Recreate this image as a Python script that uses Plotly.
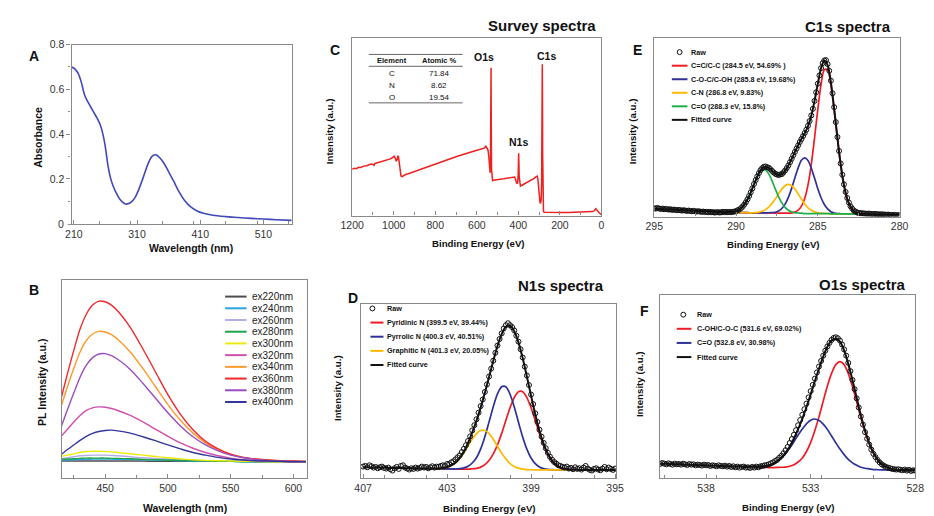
import numpy as np
import plotly.graph_objects as go

FIG_W, FIG_H = 934, 516
FONT = "Liberation Sans, Arial, sans-serif"
AXIS_GRAY = "#8a8a8a"
TICK_TEXT = "#333333"
INK = "#111111"

# ---------------- A: UV-vis absorption ----------------
uv_wavelength = [207, 212, 217, 222, 227, 232, 237, 242, 247, 252,
                 256, 260, 264, 268, 272, 277, 282, 287, 292, 297,
                 302, 307, 312, 317, 322, 327, 332, 336, 340, 344,
                 348, 353, 358, 363, 368, 375, 385, 395, 405, 415,
                 430, 450, 470, 490, 510, 530, 555]
uv_absorbance = [0.700, 0.690, 0.670, 0.630, 0.575, 0.545, 0.520, 0.495, 0.470, 0.440,
                 0.400, 0.340, 0.260, 0.205, 0.170, 0.138, 0.113, 0.097, 0.088, 0.090,
                 0.100, 0.118, 0.148, 0.185, 0.225, 0.265, 0.295, 0.306, 0.308, 0.300,
                 0.288, 0.268, 0.243, 0.216, 0.190, 0.150, 0.105, 0.075, 0.057, 0.047,
                 0.038, 0.032, 0.028, 0.024, 0.021, 0.018, 0.015]
uv_ticks = [0, 0.2, 0.4, 0.6, 0.8]
uv_tick_text = ["0", "0.2", "0.4", "0.6", "0.8"]

# ---------------- B: PL emission under different excitations ----------------
pl_wavelength = [415, 420, 425, 430, 435, 440, 445, 450, 455, 460, 470, 480, 490,
                 500, 510, 520, 530, 540, 550, 560, 570, 580, 590, 600, 610]
pl_ex220 = [3, 3, 3, 3, 3, 3, 3, 3, 3, 3, 3, 3, 2, 2, 2, 2, 2, 2, 2, 2, 2, 1, 1, 1, 1]
pl_ex240 = [6, 7, 7, 8, 8, 9, 9, 9, 9, 8, 8, 7, 6, 5, 4, 3, 3, 2, 2, 1, 1, 1, 1, 1, 1]
pl_ex260 = [10, 13, 16, 19, 20, 21, 21, 21, 20, 19, 16, 13, 11, 9, 7, 5, 4, 3, 2, 2, 1, 1, 1, 1, 1]
pl_ex280 = [8, 9, 10, 11, 12, 12, 12, 12, 11, 11, 10, 8, 7, 6, 5, 4, 3, 2, 2, 1, 1, 1, 1, 1, 1]
pl_ex300 = [17, 21, 25, 29, 32, 33, 33, 32, 31, 29, 25, 21, 17, 13, 10, 7, 5, 4, 3, 2, 2, 1, 1, 1, 1]
pl_ex320 = [78, 100, 122, 142, 157, 165, 168, 167, 163, 157, 142, 122, 100, 78, 58, 42, 29, 19, 12, 7, 4, 3, 2, 1, 1]
pl_ex340 = [170, 230, 285, 335, 370, 390, 398, 396, 388, 374, 335, 285, 230, 175, 127, 88, 58, 37, 23, 14, 9, 6, 4, 3, 2]
pl_ex360 = [195, 270, 340, 405, 450, 478, 490, 488, 478, 460, 410, 345, 275, 205, 145, 98, 63, 40, 24, 14, 9, 6, 4, 3, 2]
pl_ex380 = [107, 160, 210, 258, 295, 318, 329, 330, 324, 313, 282, 240, 195, 150, 110, 77, 52, 34, 21, 13, 8, 5, 3, 2, 2]
pl_ex400 = [23, 38, 52, 66, 78, 87, 93, 96, 97, 95, 88, 77, 65, 52, 40, 29, 21, 14, 9, 6, 4, 3, 2, 1, 1]
pl_names = ["ex220nm", "ex240nm", "ex260nm", "ex280nm", "ex300nm",
            "ex320nm", "ex340nm", "ex360nm", "ex380nm", "ex400nm"]
pl_colors = ["#4d4d4d", "#2aa3e0", "#b4aee6", "#1fa34a", "#eeea10",
             "#cf4fae", "#fb9a2b", "#f0282d", "#9a4dc0", "#33379c"]

# ---------------- C: XPS survey ----------------
survey_be = [1200, 1190, 1180, 1170, 1160, 1150, 1140, 1130, 1120, 1110, 1100, 1095, 1090, 1080,
             1070, 1060, 1050, 1040, 1030, 1020, 1010, 1003, 998, 992, 988, 984, 980, 977, 973,
             969, 965, 960, 955, 950, 940, 930, 920, 910, 900, 890, 880, 870, 860, 850, 840, 830,
             820, 810, 800, 790, 780, 770, 760, 750, 740, 730, 720, 710, 700, 690, 680, 670, 660,
             650, 640, 630, 620, 610, 600, 590, 580, 570, 562, 557, 554, 550, 546, 542, 539, 536,
             534, 533, 532, 531.5, 531, 530, 529, 527, 524, 520, 510, 500, 490, 480, 470, 460, 450,
             440, 430, 422, 418, 414, 409, 404, 401, 399.5, 398.5, 397.5, 396, 393, 390, 385, 380,
             370, 360, 350, 340, 330, 322, 316, 312, 309, 306, 303, 300, 296, 293, 290, 288, 286.5,
             285.5, 284.8, 284, 283, 282, 281, 279, 275, 260, 240, 220, 200, 180, 160, 140, 120,
             100, 80, 60, 45, 35, 30, 27, 24, 20, 15, 10, 5, 0]
survey_counts = [26.0, 26.6, 26.3, 27.1, 27.0, 27.6, 27.9, 28.0, 28.3, 28.9, 28.7, 28.2, 29.3, 29.6,
                 29.9, 30.4, 30.6, 31.1, 31.2, 31.7, 32.2, 32.9, 33.4, 32.0, 30.8, 31.2, 33.6, 33.0, 29.0,
                 24.5, 22.2, 21.9, 22.3, 22.8, 23.2, 23.5, 23.9, 24.4, 24.6, 25.2, 25.5, 26.0, 26.3, 26.8,
                 27.1, 27.6, 28.0, 28.4, 28.8, 29.3, 29.6, 30.1, 30.4, 30.9, 31.3, 31.7, 32.2, 32.6, 33.0,
                 33.5, 33.9, 34.3, 34.6, 35.1, 35.4, 35.9, 36.2, 36.5, 36.7, 37.0, 37.3, 37.6, 38.0, 39.2,
                 38.6, 37.4, 36.8, 33.0, 26.5, 24.0, 30.0, 55.0, 78.0, 83.0, 72.0, 45.0, 26.0, 21.0, 19.6,
                 19.8, 20.1, 20.2, 20.4, 20.6, 20.7, 20.9, 21.1, 21.3, 21.5, 21.8, 21.6, 20.5, 18.4, 17.9,
                 22.0, 30.0, 35.0, 30.5, 22.0, 17.2, 16.6, 16.9, 17.2, 17.8, 18.4, 18.9, 19.5, 20.2, 21.0,
                 21.8, 22.4, 22.2, 20.5, 16.0, 11.0, 7.5, 6.8, 9.0, 18.0, 45.0, 72.0, 85.0, 70.0, 35.0,
                 12.0, 4.0, 2.2, 1.9, 1.8, 1.8, 1.7, 1.8, 1.7, 1.7, 1.8, 1.8, 1.9, 1.9, 2.0, 2.2, 2.6,
                 3.1, 3.8, 3.4, 2.7, 2.0, 1.4, 0.9, 0.5]
table_elements = ["C", "N", "O"]
table_atomic = ["71.84", "8.62", "19.54"]

# ---------------- D: N1s high-resolution (407 -> 395 eV) ----------------
n1s_raw = [36, 38, 34, 40, 37, 33, 35, 31, 34, 36,
           32, 30, 33, 28, 24, 31, 35, 29, 38, 40,
           33, 30, 27, 31, 29, 33, 30, 32, 36, 33,
           35, 31, 34, 37, 33, 36, 35, 38, 40, 38,
           44, 43, 49, 52, 58, 64, 70, 80, 90, 101,
           114, 128, 146, 162, 180, 200, 220, 240, 263, 286,
           310, 334, 358, 382, 404, 424, 441, 456, 466, 472,
           466, 460, 450, 434, 416, 393, 368, 340, 313, 284,
           255, 226, 198, 172, 148, 127, 108, 92, 78, 66,
           57, 50, 45, 40, 38, 35, 33, 36, 30, 32,
           28, 34, 29, 31, 27, 33, 38, 30, 26, 24,
           29, 31, 27, 25, 30, 35, 28, 33, 29, 26,
           30]
n1s_bg = [34, 34, 33, 33, 33, 33, 32, 32, 32, 32, 31, 31, 31, 31, 30,
          30, 30, 30, 29, 29, 29, 29, 28, 28, 28, 28, 28, 27, 27, 27, 27,
          27, 27, 27, 27,
          26, 26, 26, 26, 26, 26, 26, 26, 26, 26, 26, 26, 26,
          26, 26, 26, 26, 26, 26, 26, 26, 26, 26, 26, 26, 26]
n1s_pyridinic = [0] * 24 + [0.2, 0.6, 1.5, 3.5, 7.5, 15, 27.7, 47.5, 75, 110, 150, 189, 220, 237.6,
                            237.6, 220, 189, 150, 110, 75, 47.5, 27.7, 15, 7.5, 3.5, 1.5, 0.6, 0.2] + [0] * 9
n1s_pyrrolic = [0] * 21 + [0.2, 0.6, 1.6, 4, 9, 19, 36, 63, 100, 145, 191, 230, 252,
                           252, 230, 191, 145, 100, 63, 36, 19, 9, 4, 1.6, 0.6, 0.2] + [0] * 14
n1s_graphitic = [0] * 17 + [0.4, 1, 2.4, 5.3, 10.5, 19.3, 32.4, 50, 70.7, 91.6, 109, 118.7,
                            118.7, 109, 91.6, 70.7, 50, 32.4, 19.3, 10.5, 5.3, 2.4, 1, 0.4] + [0] * 20
n1s_names = ["Pyridinic N", "Pyrrolic N", "Graphitic N"]
n1s_centers = [399.5, 400.3, 401.3]
n1s_percent = ["39.44%", "40.51%", "20.05%"]

# ---------------- E: C1s high-resolution (295 -> 280 eV) ----------------
c1s_raw = [25, 24, 26, 24, 23, 24, 22, 23, 22, 21,
           22, 20, 21, 20, 19, 20, 19, 18, 19, 18,
           17, 18, 17, 16, 17, 16, 15, 16, 15, 14,
           15, 14, 14, 13, 14, 13, 13, 12, 13, 13,
           12, 13, 14, 13, 14, 13, 14, 13, 14, 15,
           16, 19, 21, 25, 30, 36, 43, 52, 62, 73,
           85, 98, 110, 121, 131, 140, 146, 150, 151, 149,
           147, 143, 138, 133, 129, 127, 125, 127, 128, 133,
           139, 146, 154, 164, 174, 185, 195, 205, 215, 225,
           234, 243, 252, 262, 274, 288, 305, 325, 349, 375,
           401, 426, 448, 463, 471, 472, 460, 440, 410, 372,
           330, 285, 240, 198, 160, 126, 97, 74, 56, 42,
           31, 24, 18, 15, 12, 11, 10, 10, 9, 9,
           8, 9, 8, 8, 7, 8, 7, 7, 6, 7,
           6, 6, 5, 6, 5, 5, 4, 5, 4, 4,
           4]
c1s_bg = [24, 23, 23, 22, 22, 21, 21, 20, 20, 19,
          19, 18, 18, 17, 17, 16, 16, 15, 15, 14,
          14, 13, 13, 13, 12, 12, 12, 12, 12, 11,
          11, 11, 11, 11, 11, 11, 11, 10, 10, 10,
          10, 10, 10, 10, 10, 10, 9, 9, 9, 9,
          9, 9, 9, 9, 8, 8, 8, 8, 8, 8,
          8, 7, 7, 7, 7, 7, 7, 6, 6, 6,
          6, 6, 5, 5, 5, 5]
c1s_cc = [0] * 41 + [0.4, 1.2, 3.4, 9.1, 21.4, 45.4, 86.5, 148, 228, 314, 390, 434,
                     434, 390, 314, 228, 148, 86.5, 45.4, 21.4, 9.1, 3.4, 1.2, 0.4] + [0] * 11
c1s_coc = [0] * 35 + [0.4, 1.1, 2.8, 6.7, 14.2, 27.4, 47.7, 75, 107, 137, 160, 168,
                      160, 137, 107, 75, 47.7, 27.4, 14.2, 6.7, 2.8, 1.1, 0.4] + [0] * 18
c1s_cn = [0] * 30 + [0.4, 1, 2.4, 5, 9.8, 17.5, 28.6, 42.7, 58.3, 72.8, 83, 87,
                     83, 72.8, 58.3, 42.7, 28.6, 17.5, 9.8, 5, 2.4, 1, 0.4] + [0] * 23
c1s_co = [0] * 22 + [0.25, 0.7, 1.8, 4.3, 9.1, 17.7, 31.3, 50.2, 73.3, 97.4, 117.8, 129.5,
                     129.5, 117.8, 97.4, 73.3, 50.2, 31.3, 17.7, 9.1, 4.3, 1.8, 0.7, 0.25] + [0] * 30
c1s_names = ["C=C/C-C", "C-O-C/C-OH", "C-N", "C=O"]
c1s_centers = [284.5, 285.8, 286.8, 288.3]
c1s_percent = ["54.69% ", "19.68%", "9.83%", "15.8%"]

# ---------------- F: O1s high-resolution (540.2 -> 528 eV) ----------------
o1s_raw = [44, 47, 45, 43, 46, 44, 42, 45, 43, 44,
           42, 45, 43, 41, 44, 42, 43, 40, 42, 41,
           39, 42, 40, 41, 38, 40, 39, 37, 40, 38,
           37, 39, 36, 38, 35, 37, 34, 36, 33, 35,
           36, 33, 34, 32, 35, 33, 36, 34, 37, 38,
           40, 41, 43, 46, 49, 53, 57, 63, 69, 77,
           86, 96, 108, 120, 133, 147, 162, 178, 194, 211,
           228, 247, 266, 285, 304, 323, 341, 358, 374, 389,
           402, 413, 422, 428, 430, 427, 420, 408, 393, 374,
           352, 327, 300, 272, 244, 216, 189, 164, 141, 121,
           103, 88, 75, 65, 56, 49, 43, 39, 35, 33,
           31, 29, 28, 27, 28, 26, 25, 27, 24, 26,
           23, 25, 24]
o1s_bg = [45, 45, 44, 44, 43, 43, 42, 42, 41, 41,
          40, 40, 39, 39, 38, 38, 37, 37, 36, 36,
          35, 35, 35, 34, 34, 34, 33, 33, 33, 33,
          32, 32, 32, 32, 31, 31, 31, 31, 30, 30,
          30, 29, 29, 29, 29, 28, 28, 28, 27, 27,
          27, 26, 26, 26, 26, 25, 25, 25, 25, 25,
          25, 25]
o1s_coh = [0] * 27 + [0.2, 0.5, 1.1, 2.4, 5, 9.8, 18, 31.1, 51, 78.8, 115, 158.3, 205.5, 251.8,
                      291.2, 317.7, 327, 317.7, 291.2, 251.8, 205.5, 158.3, 115, 78.8, 51, 31.1,
                      18, 9.8, 5, 2.4, 1.1, 0.5, 0.2] + [0] * 2
o1s_co = [0] * 21 + [0.2, 0.5, 1.1, 2.1, 4, 7.1, 12, 19.4, 29.8, 43.5, 60.4, 79.8, 100.1, 119.5,
                     135.6, 146.3, 150, 146.3, 135.6, 119.5, 100.1, 79.8, 60.4, 43.5, 29.8, 19.4,
                     12, 7.1, 4, 2.1, 1.1, 0.5, 0.2] + [0] * 8
o1s_names = ["C-OH/C-O-C", "C=O"]
o1s_centers = [531.6, 532.8]
o1s_percent = ["69.02%", "30.98%"]

RED, BLUE, YELLOW, GREEN = "#ee1c25", "#2e3196", "#ffb800", "#1fae4b"


def px(x):
    return x / FIG_W


def py(y):
    return 1 - y / FIG_H


def energy_grid(start, step, n):
    return np.round(start - step * np.arange(n), 2)


fig = go.Figure()


def add_line(x, y, k, color, width, shape="spline"):
    fig.add_trace(go.Scatter(
        x=list(x), y=list(y), mode="lines",
        line=dict(color=color, width=width, shape=shape, smoothing=0.8),
        xaxis="x" if k == 1 else f"x{k}", yaxis="y" if k == 1 else f"y{k}",
        showlegend=False, hoverinfo="skip"))


def add_raw(x, y, k):
    fig.add_trace(go.Scatter(
        x=list(x), y=list(y), mode="markers",
        marker=dict(symbol="circle-open", size=5, color=INK, line=dict(width=1, color=INK)),
        xaxis=f"x{k}", yaxis=f"y{k}", showlegend=False, hoverinfo="skip"))


def add_fit_panel(k, start, raw, bg, comps, colors, window):
    be_fit = energy_grid(start, 0.2, len(bg))
    be_raw = energy_grid(start, 0.1, len(raw))
    bg = np.asarray(bg, float)
    hi, lo = window
    mask = (be_fit <= hi + 1e-6) & (be_fit >= lo - 1e-6)
    total = bg.copy()
    for comp, col in zip(comps, colors):
        comp = np.asarray(comp, float)
        total = total + comp
        add_line(be_fit[mask], (bg + comp)[mask], k, col, 1.7)
    add_line(be_fit, total, k, INK, 2.0)
    add_raw(be_raw, raw, k)


# A
add_line(uv_wavelength, uv_absorbance, 1, "#4149b8", 1.6)
# B
for ys, col in zip([pl_ex220, pl_ex240, pl_ex260, pl_ex280, pl_ex300,
                    pl_ex320, pl_ex340, pl_ex360, pl_ex380, pl_ex400], pl_colors):
    add_line(pl_wavelength, ys, 2, col, 1.4)
# C
add_line(survey_be, survey_counts, 3, "#ee2020", 1.5, shape="linear")
# D
add_fit_panel(4, 407.0, n1s_raw, n1s_bg, [n1s_pyridinic, n1s_pyrrolic, n1s_graphitic],
              [RED, BLUE, YELLOW], (404.0, 397.0))
# E
add_fit_panel(5, 295.0, c1s_raw, c1s_bg, [c1s_cc, c1s_coc, c1s_cn, c1s_co],
              [RED, BLUE, YELLOW, GREEN], (291.0, 281.0))
# F
add_fit_panel(6, 540.2, o1s_raw, o1s_bg, [o1s_coh, o1s_co], [RED, BLUE], (535.6, 528.0))

# ---------------- axes ----------------
tickfont = dict(family=FONT, size=10.5, color=TICK_TEXT)


def frame(domain, rng, anchor, **kw):
    d = dict(domain=domain, range=rng, anchor=anchor, showline=True, mirror=True,
             linecolor=AXIS_GRAY, linewidth=1.3, showgrid=False, zeroline=False,
             ticks="", showticklabels=False, fixedrange=True)
    d.update(kw)
    return d


def xticks(tick0, dtick, minor):
    return dict(ticks="inside", ticklen=4, tickwidth=1, tickcolor=AXIS_GRAY,
                tick0=tick0, dtick=dtick, showticklabels=True, tickfont=tickfont,
                minor=dict(dtick=minor, ticks="inside", ticklen=3, tickwidth=1, tickcolor=AXIS_GRAY))


boxes = {
    1: (61, 286, 39, 221),
    2: (51, 302, 277, 478),
    3: (348, 603, 32, 212),
    4: (357, 618, 301, 478),
    5: (657, 908, 32, 213),
    6: (663, 924, 292, 478),
}
x_ranges = {1: [206.5, 554.5], 2: [415.5, 611], 3: [1200, 0],
            4: [407.1, 394.95], 5: [295, 280], 6: [540.2, 528]}
y_ranges = {1: [-0.003, 0.8], 2: [-50, 555], 3: [0, 100], 4: [0, 532], 5: [0, 540], 6: [0, 560]}
x_tick_specs = {1: (210, 100, 50), 2: (450, 50, 25), 3: (0, 200, 100),
                4: (395, 4, 2), 5: (280, 5, 2.5), 6: (528, 5, 2.5)}

layout_axes = {}
for k, (x0, x1, y0, y1) in boxes.items():
    xa = "xaxis" if k == 1 else f"xaxis{k}"
    ya = "yaxis" if k == 1 else f"yaxis{k}"
    xs = "x" if k == 1 else f"x{k}"
    ys = "y" if k == 1 else f"y{k}"
    layout_axes[xa] = frame([px(x0), px(x1)], x_ranges[k], ys, **xticks(*x_tick_specs[k]))
    yextra = {}
    if k == 1:
        yextra = dict(ticks="outside", ticklen=4, tickwidth=1, tickcolor=AXIS_GRAY,
                      tickmode="array", tickvals=uv_ticks[1:], ticktext=uv_tick_text[1:],
                      showticklabels=True, tickfont=tickfont,
                      minor=dict(tickmode="array", tickvals=[0.1, 0.3, 0.5, 0.7],
                                 ticks="outside", ticklen=2.5, tickwidth=1, tickcolor=AXIS_GRAY))
    layout_axes[ya] = frame([py(y1), py(y0)], y_ranges[k], xs, **yextra)

# ---------------- text ----------------
annotations = []
shapes = []


def text(s, x, y, size, bold=False, anchor="center", angle=0, color=INK, valign="middle"):
    annotations.append(dict(
        text=f"<b>{s}</b>" if bold else s, x=px(x), y=py(y), xref="paper", yref="paper",
        xanchor=anchor, yanchor=valign, showarrow=False, textangle=angle,
        font=dict(family=FONT, size=size, color=color)))


# zero label and tick of A's absorbance axis, at the corner shared with the wavelength axis
text(uv_tick_text[0], 55.5, 221, 10.5, anchor="right", color=TICK_TEXT)
shapes.append(dict(type="line", xref="paper", yref="paper", x0=px(57), x1=px(61),
                   y0=py(221), y1=py(221), line=dict(color=AXIS_GRAY, width=1)))

for letter, x, y in [("A", 22, 51), ("B", 22, 287), ("C", 330, 45),
                     ("D", 349, 295), ("E", 640, 45), ("F", 647, 309)]:
    text(letter, x, y, 14, bold=True)

for title, x, y in [("Survey spectra", 599, 20), ("C1s spectra", 901, 21),
                    ("N1s spectra", 608, 283), ("O1s spectra", 917, 282)]:
    text(title, x, y, 15, bold=True, anchor="right")

text("Absorbance", 27, 133, 10.5, bold=True, angle=-90)
text("Wavelength (nm)", 183, 245, 10.5, bold=True)
text("PL Intensity (a.u.)", 30, 381, 10.5, bold=True, angle=-90)
text("Wavelength (nm)", 177, 508, 10.5, bold=True)
for (yx, yy), (xx, xy) in [((325, 127), (477, 240)), ((333, 387), (488, 508)),
                           ((635, 127), (779, 241)), ((642, 383), (794, 507))]:
    text("Intensity (a.u.)", yx, yy, 9.7, bold=True, angle=-90)
    text("Binding Energy (eV)", xx, xy, 9.7, bold=True)

# survey peak labels
text("O1s", 483, 52, 10.5, bold=True)
text("N1s", 518, 138, 10.5, bold=True)
text("C1s", 547, 51, 10.5, bold=True)

# composition table
for yy in (49, 61, 98):
    shapes.append(dict(type="line", xref="paper", yref="paper", x0=px(365), x1=px(461),
                       y0=py(yy), y1=py(yy), line=dict(color="#666666", width=1)))
text("Element", 389, 55, 7.5, bold=True)
text("Atomic %", 437, 55, 7.5, bold=True)
for i, (el, val) in enumerate(zip(table_elements, table_atomic)):
    text(el, 389, 68 + 12.2 * i, 8)
    text(val, 437, 68 + 12.2 * i, 8)

# PL legend
for i, (name, col) in enumerate(zip(pl_names, pl_colors)):
    yy = 294 + 11.85 * i
    shapes.append(dict(type="line", xref="paper", yref="paper", x0=px(218), x1=px(240),
                       y0=py(yy), y1=py(yy), line=dict(color=col, width=2)))
    text(name, 243, yy, 10, anchor="left", color="#222222")


def xps_legend(cx, cy, line_x0, line_x1, text_x, step, labels, colors):
    shapes.append(dict(type="circle", xref="paper", yref="paper",
                       x0=px(cx - 2.5), x1=px(cx + 2.5), y0=py(cy + 2.5), y1=py(cy - 2.5),
                       line=dict(color=INK, width=1)))
    text("Raw", text_x, cy, 7.2, bold=True, anchor="left")
    for i, (lab, col) in enumerate(zip(labels, colors)):
        yy = cy + step * (i + 1)
        shapes.append(dict(type="line", xref="paper", yref="paper", x0=px(line_x0), x1=px(line_x1),
                           y0=py(yy), y1=py(yy), line=dict(color=col, width=2)))
        text(lab, text_x, yy, 7.2, bold=True, anchor="left")


xps_legend(683, 46.7, 675, 691, 693, 13.7,
           [f"{n} ({c} eV, {p})" for n, c, p in zip(c1s_names, c1s_centers, c1s_percent)] + ["Fitted curve"],
           [RED, BLUE, YELLOW, GREEN, INK])
xps_legend(368.7, 306, 366.7, 380, 382, 14.3,
           [f"{n} ({c} eV, {p})" for n, c, p in zip(n1s_names, n1s_centers, n1s_percent)] + ["Fitted curve"],
           [RED, BLUE, YELLOW, INK])
xps_legend(686.7, 312.3, 680, 695, 699, 14.3,
           [f"{n} ({c} eV, {p})" for n, c, p in zip(o1s_names, o1s_centers, o1s_percent)] + ["Fitted curve"],
           [RED, BLUE, INK])

fig.update_layout(
    width=FIG_W, height=FIG_H, margin=dict(l=0, r=0, t=0, b=0),
    paper_bgcolor="white", plot_bgcolor="white", showlegend=False,
    annotations=annotations, shapes=shapes, **layout_axes)

fig.write_html("out.html")
